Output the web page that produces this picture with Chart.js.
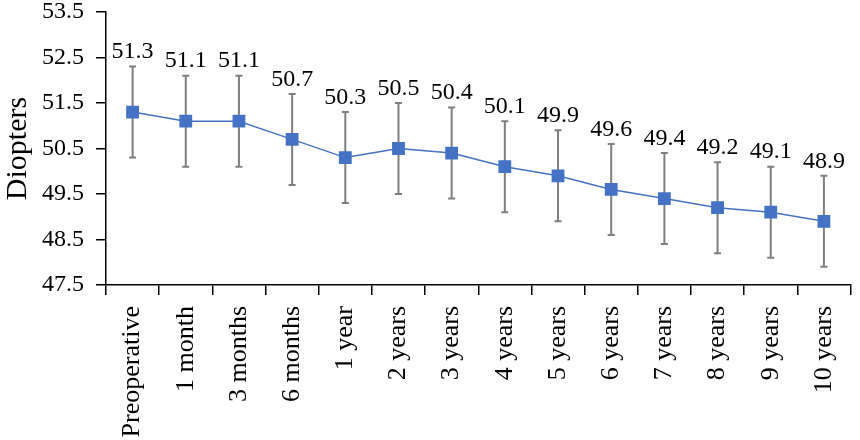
<!DOCTYPE html>
<html>
<head>
<meta charset="utf-8">
<script src="https://cdn.jsdelivr.net/npm/chart.js@4"></script>
<style>
  html, body { margin: 0; padding: 0; background: #fff; }
  #wrap { width: 860px; height: 440px; }
</style>
</head>
<body>
<div id="wrap"><canvas id="chart"></canvas></div>
<script>
const categories = ['Preoperative', '1 month', '3 months', '6 months', '1 year', '2 years', '3 years',
    '4 years', '5 years', '6 years', '7 years', '8 years', '9 years', '10 years'];
const meanValues = [51.3, 51.1, 51.1, 50.7, 50.3, 50.5, 50.4, 50.1, 49.9, 49.6, 49.4, 49.2, 49.1, 48.9];
const errValues = [1, 1, 1, 1, 1, 1, 1, 1, 1, 1, 1, 1, 1, 1];
const yTicks = [47.5, 48.5, 49.5, 50.5, 51.5, 52.5, 53.5];

const FONT = "'Liberation Serif', 'Times New Roman', serif";

// error bars, drawn under the line
const errorBars = {
    id: 'errorBars',
    beforeDatasetsDraw(chart) {
        const ctx = chart.ctx;
        const meta = chart.getDatasetMeta(0);
        const y = chart.scales.y;
        ctx.save();
        ctx.strokeStyle = '#7f7f7f';
        ctx.lineWidth = 2;
        meta.data.forEach((pt, i) => {
            const top = y.getPixelForValue(meanValues[i] + errValues[i]);
            const bot = y.getPixelForValue(meanValues[i] - errValues[i]);
            ctx.beginPath();
            ctx.moveTo(pt.x, top);
            ctx.lineTo(pt.x, bot);
            ctx.moveTo(pt.x - 3.5, top);
            ctx.lineTo(pt.x + 3.5, top);
            ctx.moveTo(pt.x - 3.5, bot);
            ctx.lineTo(pt.x + 3.5, bot);
            ctx.stroke();
        });
        ctx.restore();
    }
};

// value labels above each point
const valueLabels = {
    id: 'valueLabels',
    afterDatasetsDraw(chart) {
        const ctx = chart.ctx;
        const meta = chart.getDatasetMeta(0);
        ctx.save();
        ctx.fillStyle = '#000';
        ctx.font = '24px ' + FONT;
        ctx.textAlign = 'center';
        ctx.textBaseline = 'middle';
        meta.data.forEach((pt, i) => {
            ctx.fillText(meanValues[i].toFixed(1), pt.x, pt.y - 60);
        });
        ctx.restore();
    }
};

new Chart(document.getElementById('chart'), {
    type: 'line',
    data: {
        labels: categories,
        datasets: [{
            data: meanValues,
            borderColor: '#4472c4',
            borderWidth: 1.5,
            backgroundColor: '#4472c4',
            pointStyle: 'rect',
            pointRadius: 8,
            pointBorderColor: '#4472c4',
            pointBackgroundColor: '#4472c4',
            tension: 0
        }]
    },
    options: {
        responsive: true,
        maintainAspectRatio: false,
        animation: false,
        layout: { padding: { top: 0, right: 2, bottom: 0, left: 0 } },
        plugins: {
            legend: { display: false },
            tooltip: { enabled: false }
        },
        scales: {
            x: {
                offset: true,
                afterFit(scale) {
                    scale.height = 155;
                    scale.paddingLeft = 0;
                    scale.paddingRight = 0;
                },
                grid: {
                    offset: true,
                    drawOnChartArea: false,
                    drawTicks: true,
                    tickLength: 10,
                    color: '#000',
                    lineWidth: 1.5
                },
                border: { color: '#000', width: 1.5 },
                ticks: {
                    color: '#000',
                    font: { family: FONT, size: 26 },
                    minRotation: 90,
                    maxRotation: 90,
                    autoSkip: false,
                    padding: 11
                }
            },
            y: {
                min: 47.5,
                max: 53.5,
                afterFit(scale) {
                    scale.width = 106;
                    scale.paddingTop = 12;
                    scale.paddingBottom = 0;
                },
                afterBuildTicks(scale) { scale.ticks = yTicks.map(v => ({ value: v })); },
                grid: {
                    drawOnChartArea: false,
                    drawTicks: true,
                    tickLength: 10,
                    color: '#000',
                    lineWidth: 1.5
                },
                border: { color: '#000', width: 1.5 },
                ticks: {
                    color: '#000',
                    font: { family: FONT, size: 24 },
                    padding: 12,
                    callback: v => v.toFixed(1)
                },
                title: {
                    display: true,
                    text: 'Diopters',
                    color: '#000',
                    font: { family: FONT, size: 30 },
                    padding: 0
                }
            }
        }
    },
    plugins: [errorBars, valueLabels]
});
</script>
</body>
</html>
